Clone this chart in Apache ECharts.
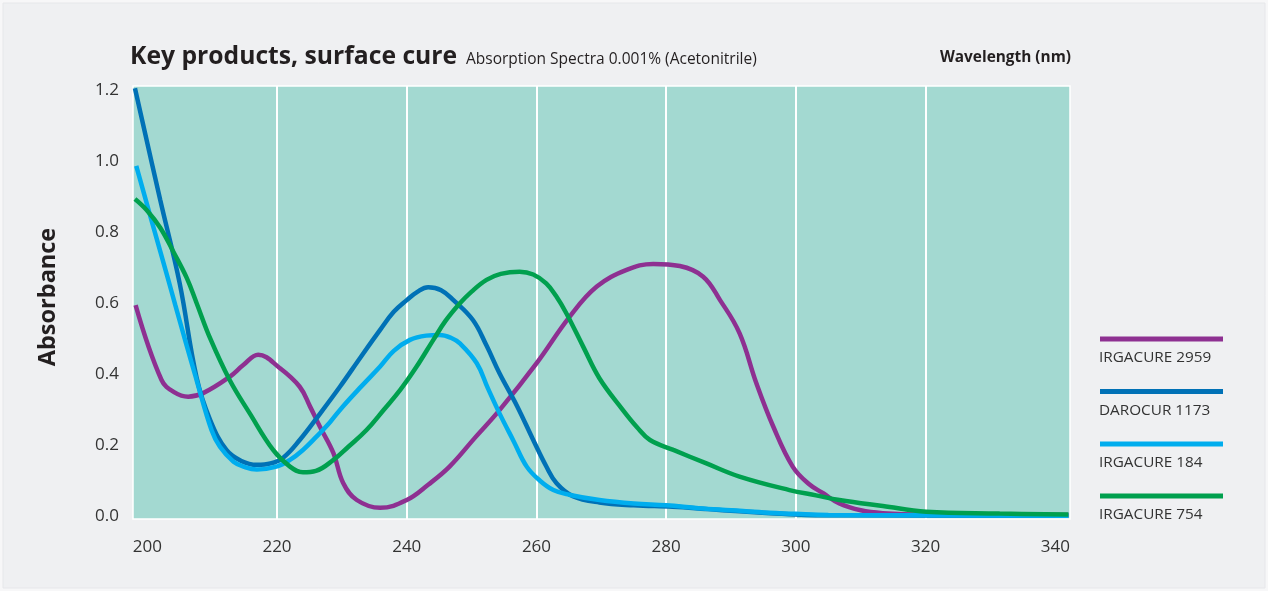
<!DOCTYPE html>
<html>
<head>
<meta charset="utf-8">
<script src="https://cdn.jsdelivr.net/npm/echarts@6/dist/echarts.min.js"></script>
<style>
html,body{margin:0;padding:0;background:#f7f7f8;}
#c{width:1268px;height:591px;}
</style>
</head>
<body>
<div id="c"></div>
<script>
// ---- data (wavelength nm, absorbance) ----
const IRGACURE_2959 = [[198.2,0.594],[202.2,0.383],[204.2,0.348],[206.3,0.336],[208.6,0.346],[212.7,0.392],[214.8,0.425],[217.1,0.454],[220.4,0.417],[223.5,0.364],[225.1,0.308],[226.6,0.252],[228.7,0.177],[230.2,0.093],[232.3,0.045],[235.9,0.023],[240,0.045],[243.3,0.088],[246.6,0.139],[250.5,0.22],[254.3,0.298],[260,0.43],[265.1,0.561],[269.3,0.646],[273.9,0.693],[278,0.71],[282.1,0.704],[285.7,0.674],[288.3,0.608],[291.3,0.515],[293.9,0.374],[296.5,0.252],[299.5,0.139],[302,0.09],[304.2,0.064],[306.7,0.035],[310,0.016],[313.4,0.008],[320,0.004],[342,0.003]];
const DAROCUR_1173 = [[198.1,1.205],[202,0.89],[205,0.655],[207.6,0.39],[209.7,0.27],[212.2,0.186],[214.5,0.155],[216.9,0.144],[219,0.148],[221,0.165],[223.5,0.214],[226.5,0.285],[229.7,0.364],[233,0.45],[235.9,0.524],[238,0.575],[240,0.608],[241.7,0.632],[243.3,0.644],[245.3,0.636],[247.2,0.608],[250.2,0.552],[252.3,0.48],[254.3,0.402],[257,0.31],[259.5,0.214],[261.5,0.14],[263.1,0.092],[265.6,0.056],[269.7,0.038],[275,0.03],[281,0.026],[286,0.02],[291.3,0.013],[296,0.008],[301.6,0.003],[310,0.002],[342,0.001]];
const IRGACURE_184 = [[198.3,0.986],[201,0.81],[203.2,0.668],[204.3,0.595],[206,0.485],[207.6,0.383],[209.9,0.242],[211.2,0.195],[213.3,0.153],[215,0.138],[216.9,0.131],[219.9,0.139],[222,0.158],[224,0.186],[226,0.222],[228.2,0.265],[230,0.305],[233,0.365],[235.9,0.421],[238,0.465],[240.5,0.496],[243,0.508],[245.1,0.51],[246.8,0.502],[248.2,0.486],[250.8,0.43],[252.5,0.36],[254.3,0.289],[256.5,0.21],[258.5,0.139],[260.5,0.1],[262.6,0.073],[265,0.06],[269.7,0.045],[275,0.035],[280,0.03],[285,0.022],[290,0.016],[295,0.01],[300,0.006],[305,0.003],[320,0.002],[342,0.001]];
const IRGACURE_754 = [[198.1,0.893],[199.9,0.862],[202,0.812],[204,0.745],[206.1,0.67],[207.6,0.6],[209.7,0.5],[212.7,0.383],[215.8,0.289],[219.4,0.186],[222,0.139],[224,0.123],[226,0.127],[228.7,0.158],[231,0.195],[233.8,0.242],[236.5,0.3],[239,0.355],[241.5,0.42],[244.1,0.496],[246,0.55],[248.2,0.599],[250,0.632],[252.3,0.665],[254.5,0.682],[257.4,0.688],[259.5,0.68],[261.5,0.655],[263,0.62],[264.6,0.571],[267.2,0.477],[269.7,0.388],[273.3,0.299],[275.5,0.25],[277.5,0.214],[281.1,0.186],[286.2,0.148],[291.3,0.111],[299,0.073],[303.1,0.058],[306.7,0.045],[313.4,0.028],[320.1,0.012],[331.4,0.007],[342,0.004]];

const seriesNames = ['IRGACURE 2959','DAROCUR 1173','IRGACURE 184','IRGACURE 754'];
const seriesData = [IRGACURE_2959, DAROCUR_1173, IRGACURE_184, IRGACURE_754];
const seriesColors = ['#8e3091','#0071b6','#00adee','#00a04e'];

const xTickLabels = [200,220,240,260,280,300,320,340];
const xGridLines = [220,240,260,280,300,320];
const yTickLabels = [0,0.2,0.4,0.6,0.8,1.0,1.2];

const titleText = 'Key products, surface cure';
const subtitleText = 'Absorption Spectra 0.001% (Acetonitrile)';
const xAxisTitle = 'Wavelength (nm)';
const yAxisTitle = 'Absorbance';

const FONT = '"Open Sans", "Noto Sans", sans-serif';
const chart = echarts.init(document.getElementById('c'));

const legendGraphics = [];
const legendY = [339, 391.5, 444, 496];
seriesNames.forEach((n,i)=>{
  legendGraphics.push({type:'rect', shape:{x:1100,y:legendY[i]-2.5,width:123,height:5}, style:{fill:seriesColors[i]}});
  legendGraphics.push({type:'text', x:1099, y:legendY[i]+19, style:{text:n, fill:'#333', font:'15.3px '+FONT, align:'left', verticalAlign:'middle'}});
});

chart.setOption({
  animation:false,
  backgroundColor:'#f7f7f8',
  grid:{left:133, top:86, width:937, height:433, show:true, backgroundColor:'#a3d9d1', borderColor:'#ffffff', borderWidth:1.5, containLabel:false},
  xAxis:{
    type:'value', min:197.8, max:342.25,
    axisLine:{show:false},
    axisTick:{show:false, customValues:xGridLines},
    axisLabel:{customValues:xTickLabels, color:'#333', fontSize:17, fontFamily:FONT, margin:20},
    splitLine:{show:true, lineStyle:{color:'#ffffff', width:2}}
  },
  yAxis:{
    type:'value', min:-0.0085, max:1.211,
    axisLine:{show:false},
    axisTick:{show:false, customValues:yTickLabels},
    axisLabel:{customValues:yTickLabels, color:'#333', fontSize:17, fontFamily:FONT, margin:14, formatter:v=>v.toFixed(1)},
    splitLine:{show:false}
  },
  graphic:[
    {type:'rect', shape:{x:3,y:3,width:1262,height:585}, style:{fill:'#eff0f2', stroke:'#e6e7ea', lineWidth:1}, z:-10},
    {type:'text', x:130, y:44, style:{text:titleText, fill:'#231f20', font:'bold 24.7px '+FONT, align:'left', verticalAlign:'top'}},
    {type:'text', x:466, y:52, style:{text:subtitleText, fill:'#231f20', font:'15.5px '+FONT, align:'left', verticalAlign:'top'}},
    {type:'text', x:1071, y:50, style:{text:xAxisTitle, fill:'#231f20', font:'bold 15.4px '+FONT, align:'right', verticalAlign:'top'}},
    {type:'text', x:48, y:297, rotation:Math.PI/2, style:{text:yAxisTitle, fill:'#231f20', font:'bold 23.5px '+FONT, align:'center', verticalAlign:'middle'}},
    ...legendGraphics
  ],
  series: seriesData.map((d,i)=>({
    name:seriesNames[i], type:'line', data:d, smooth:0.4, showSymbol:false, symbol:'none',
    lineStyle:{color:seriesColors[i], width:4.5}, z:2+i
  }))
});
</script>
</body>
</html>
